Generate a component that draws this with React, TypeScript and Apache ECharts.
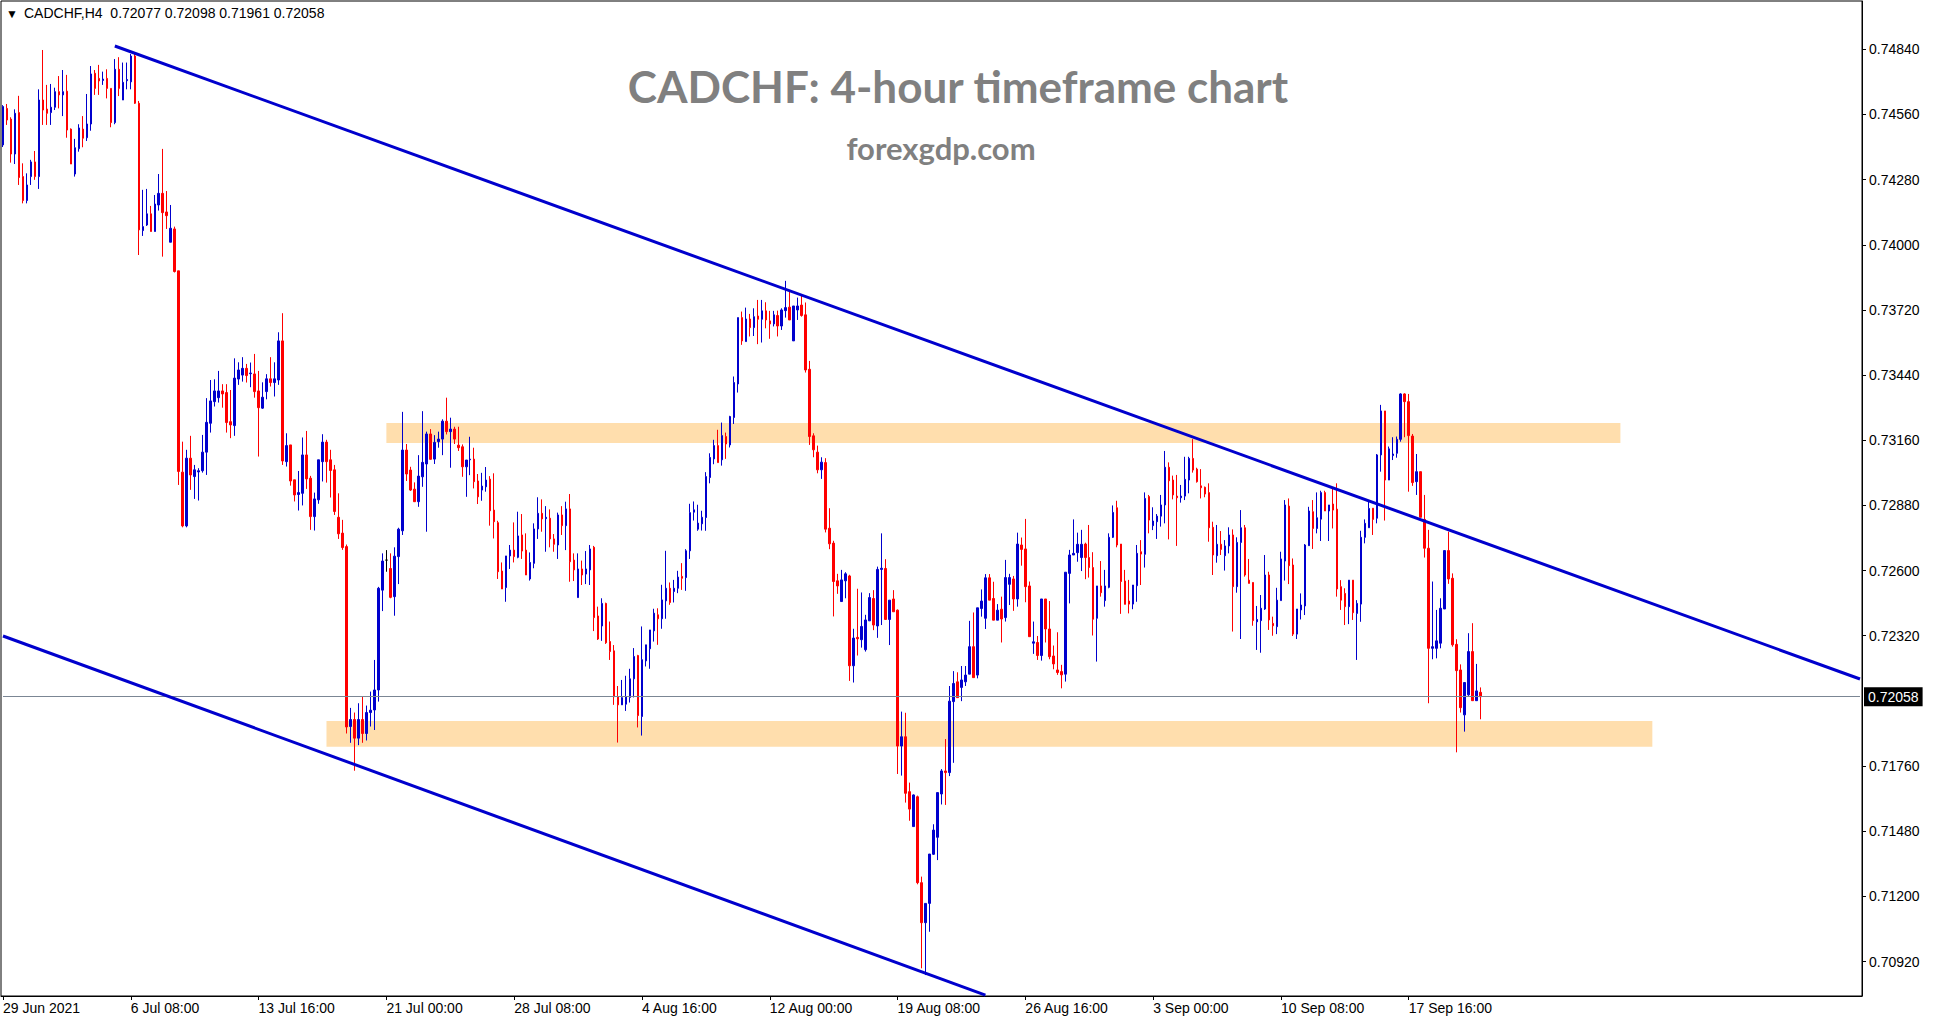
import React, { useEffect, useRef } from "react";
import * as echarts from "echarts";

// Each candle: [open, close, low, high] in units of 0.00001 (CADCHF, H4)
const week1 = [
  [74429,74594,74420,74600],[74586,74536,74515,74605],[74540,74390,74353,74548],[74390,74565,74347,74582],[74568,74289,74257,74640],[74293,74190,74178,74350],
  [74190,74257,74178,74307],[74293,74356,74257,74365],[74356,74293,74279,74403],[74293,74622,74240,74668],[74622,74579,74515,74837],[74583,74565,74515,74687],
  [74568,74591,74515,74691],[74591,74658,74579,74675],[74658,74644,74586,74725],[74644,74658,74553,74751],[74660,74493,74460,74730],[74497,74347,74347,74500],
  [74304,74417,74293,74455],[74413,74502,74400,74518],[74497,74458,74419,74553],[74460,74519,74446,74648],[74519,74734,74490,74768],[74737,74672,74644,74751],
];
const week2 = [
  [74715,74704,74644,74773],[74706,74712,74687,74744],[74715,74672,74629,74754],[74672,74525,74505,74672],[74525,74754,74518,74798],[74754,74672,74639,74806],
  [74622,74698,74622,74783],[74705,74710,74668,74783],[74700,74811,74668,74820],[74811,74608,74605,74820],[74608,74064,73956,74618],[74061,74078,74038,74236],
  [74085,74133,74081,74240],[74133,74057,74057,74167],[74057,74175,74057,74214],[74171,74221,74147,74304],[74221,74138,73949,74412],[74141,74125,74068,74231],
  [74011,74071,74011,74171],[74068,73885,73881,74078],[73888,73026,72968,73888],[73023,72792,72786,73154],[72792,73083,72786,73119],[73083,73011,72947,73179],
  [73004,73033,72908,73054],[73024,73029,72901,73040],[73029,73109,73021,73183],[73109,73237,73011,73341],[73233,73329,73193,73419],[73326,73372,73305,73422],
];
const week3 = [
  [73343,73372,73322,73458],[73372,73359,73300,73401],[73365,73236,73193,73401],[73240,73226,73169,73376],[73223,73427,73179,73512],[73423,73462,73398,73495],
  [73440,73469,73412,73517],[73469,73438,73408,73488],[73446,73449,73388,73494],[73445,73369,73343,73531],[73372,73300,73090,73458],[73298,73345,73295,73409],
  [73369,73424,73336,73444],[73424,73408,73391,73517],[73408,73424,73348,73495],[73419,73587,73398,73624],[73587,73071,73054,73706],[73068,73137,73047,73190],
  [73140,72985,72965,73140],[72990,72925,72897,72990],[72927,72935,72858,73028],[72932,73097,72880,73172],[73097,72994,72951,73200],[72997,72832,72775,73007],
  [72832,72908,72772,72935],[72904,73076,72887,73076],[73068,73152,72983,73186],[73152,73068,72978,73162],[73076,73030,72914,73119],[73033,72854,72839,73054],
];
const week4 = [
  [72829,72758,72736,72932],[72761,72699,72689,72818],[72703,71928,71900,72712],[71930,71960,71860,72010],[71960,71880,71740,71990],[71880,71960,71850,72030],
  [71960,71900,71860,72060],[71900,71990,71870,72020],[71990,72000,71930,72080],[72001,72087,71915,72216],[72087,72524,72037,72530],[72516,72641,72426,72674],
  [72645,72645,72595,72688],[72609,72485,72481,72674],[72488,72662,72406,72700],[72660,72778,72542,72784],[72771,73118,72753,73282],[73118,73015,72985,73144],
  [73032,72946,72942,73046],[72950,72896,72896,72979],[72896,73006,72874,73096],[73003,73065,72960,73285],[73058,73187,72767,73197],[73187,73078,73078,73208],
  [73079,73151,73058,73182],[73154,73165,73128,73197],[73165,73242,73096,73250],[73242,73197,73185,73343],[73197,73208,73042,73257],[73208,73165,73144,73218],
];
const week5 = [
  [73139,73128,73114,73218],[73132,73046,73003,73142],[73046,73075,72917,73075],[73076,73079,73010,73175],[73079,72982,72953,73128],[72985,72917,72886,73015],
  [72946,72963,72900,73020],[72960,72989,72939,73045],[72993,72857,72793,73006],[72860,72810,72738,73018],[72806,72595,72564,72814],[72598,72521,72521,72635],
  [72527,72663,72466,72663],[72663,72688,72607,72710],[72688,72660,72635,72807],[72657,72749,72653,72853],[72753,72684,72650,72843],[72688,72581,72581,72760],
  [72564,72635,72557,72678],[72631,72779,72610,72803],[72779,72846,72736,72915],[72846,72822,72767,72906],[72823,72829,72681,72877],[72825,72736,72700,72863],
  [72736,72713,72681,72757],[72710,72839,72650,72849],[72839,72793,72753,72877],[72793,72865,72688,72896],[72865,72638,72552,72929],[72645,72603,72555,72674],
];
const week6 = [
  [72484,72607,72484,72674],[72607,72581,72538,72643],[72585,72607,72542,72684],[72603,72693,72538,72710],[72700,72398,72340,72706],[72405,72306,72302,72445],
  [72362,72459,72298,72481],[72459,72290,72285,72462],[72295,72252,72216,72381],[72255,72058,72023,72280],[72058,72023,71861,72104],[72023,72054,72023,72130],
  [72026,72059,71997,72148],[72055,72135,72033,72178],[72135,72231,72055,72267],[72235,71977,71926,72238],[71973,72217,71891,72360],[72212,72281,72188,72281],
  [72264,72345,72178,72345],[72341,72417,72295,72436],[72410,72393,72281,72438],[72393,72474,72350,72539],[72470,72524,72393,72685],[72524,72463,72453,72549],
  [72510,72524,72463,72560],[72524,72572,72503,72599],[72575,72567,72517,72632],[72570,72685,72513,72692],[72685,72849,72650,72887],[72851,72861,72815,72897],
];
const week7 = [
  [72778,72804,72771,72883],[72801,72829,72772,72857],[72828,73004,72771,73023],[73000,73086,72975,73104],[73080,73137,73057,73162],[73137,73064,73064,73205],
  [73076,73180,73051,73236],[73176,73144,73080,73193],[73140,73262,73129,73265],[73258,73408,73230,73434],[73402,73687,73365,73687],[73687,73587,73570,73713],
  [73584,73681,73584,73730],[73681,73644,73606,73703],[73644,73691,73608,73727],[73694,73680,73573,73763],[73680,73716,73580,73763],[73716,73677,73641,73753],
  [73673,73660,73596,73716],[73660,73699,73649,73716],[73696,73651,73606,73717],[73651,73720,73634,73727],[73717,73730,73687,73845],[73732,73677,73677,73799],
  [73587,73737,73587,73737],[73720,73737,73677,73773],[73741,73696,73691,73782],[73699,73462,73451,73752],[73465,73176,73140,73501],[73179,73119,73087,73190],
];
const week8 = [
  [73109,73033,73018,73137],[73033,73066,72994,73087],[73064,72778,72764,73083],[72782,72715,72692,72868],[72718,72553,72403,72728],[72556,72534,72500,72586],
  [72467,72560,72467,72603],[72556,72586,72481,72593],[72577,72191,72126,72582],[72191,72310,72119,72350],[72313,72307,72235,72522],[72303,72360,72269,72506],
  [72260,72388,72252,72410],[72384,72484,72384,72503],[72480,72366,72344,72516],[72362,72605,72311,72617],[72605,72610,72366,72760],[72609,72390,72390,72649],
  [72390,72473,72280,72473],[72478,72423,72423,72516],[72430,71846,71726,72433],[71846,71886,71719,71994],[71886,71643,71603,71989],[71650,71575,71525,71689],
  [71500,71636,71500,71638],[71628,71259,71252,71633],[71259,71087,70891,71285],[71087,71170,70862,71170],[71170,71382,71048,71382],[71381,71485,71378,71510],
];
const week9 = [
  [71454,71646,71356,71646],[71640,71739,71595,71747],[71739,71732,71593,71876],[71732,72039,71717,72104],[72037,72115,71774,72168],[72122,72054,72054,72163],
  [72098,72130,72039,72190],[72122,72151,72104,72190],[72155,72273,72155,72384],[72273,72140,72140,72420],[72151,72440,72137,72440],[72437,72469,72402,72519],
  [72395,72569,72349,72585],[72569,72473,72473,72585],[72480,72387,72387,72552],[72387,72430,72387,72456],[72434,72392,72291,72488],[72398,72570,72381,72646],
  [72541,72570,72452,72586],[72564,72478,72427,72577],[72478,72714,72445,72763],[72710,72691,72621,72742],[72693,72531,72464,72822],[72534,72316,72316,72553],
  [72288,72294,72242,72381],[72291,72235,72216,72319],[72235,72478,72213,72478],[72478,72349,72291,72478],[72349,72230,72219,72469],[72233,72199,72176,72278],
];
const week10 = [
  [72173,72162,72152,72335],[72166,72152,72094,72195],[72155,72593,72123,72593],[72588,72667,72459,72689],[72667,72674,72667,72820],[72677,72713,72638,72763],
  [72656,72713,72598,72775],[72714,72656,72563,72720],[72656,72613,72570,72796],[72613,72391,72321,72679],[72395,72534,72209,72534],[72534,72505,72488,72641],
  [72471,72534,72445,72603],[72528,72743,72524,72760],[72743,72850,72740,72880],[72870,72710,72700,72900],[72714,72553,72414,72714],[72555,72455,72455,72603],
  [72469,72456,72416,72560],[72456,72538,72434,72538],[72535,72674,72466,72710],[72681,72671,72538,72731],[72670,72910,72613,72936],[72918,72817,72760,72925],
  [72793,72813,72774,72872],[72810,72834,72736,72843],[72834,72882,72789,72925],[72882,73044,72803,73114],[73044,72986,72734,73065],[72989,72925,72906,73008],
];
const week11 = [
  [72920,72913,72706,73011],[72913,72920,72892,72968],[72920,72992,72903,73089],[72989,73082,72932,73089],[73082,73032,73021,73165],[73036,72982,72978,73042],
  [72964,72956,72910,73036],[72958,72929,72915,72961],[72935,72784,72724,72975],[72786,72667,72581,72810],[72664,72713,72634,72796],[72713,72691,72667,72770],
  [72664,72706,72600,72731],[72706,72753,72674,72786],[72753,72531,72338,72777],[72531,72721,72505,72743],[72721,72784,72306,72860],[72784,72581,72574,72796],
  [72559,72545,72545,72650],[72549,72385,72363,72549],[72380,72390,72259,72448],[72385,72438,72247,72495],[72435,72581,72431,72667],[72581,72388,72345,72595],
  [72373,72363,72320,72402],[72359,72473,72327,72526],[72471,72650,72471,72681],[72641,72882,72557,72903],[72877,72621,72542,72910],[72624,72327,72319,72652],
];
const week12 = [
  [72327,72435,72306,72435],[72431,72452,72390,72502],[72448,72710,72409,72714],[72707,72856,72707,72874],[72853,72781,72693,72903],[72781,72827,72760,72936],
  [72821,72935,72727,72943],[72935,72856,72856,72943],[72856,72882,72727,72882],[72886,72860,72781,72953],[72864,72521,72488,72975],[72531,72473,72431,72559],
  [72502,72445,72366,72524],[72445,72559,72370,72559],[72559,72419,72388,72559],[72416,72459,72216,72473],[72456,72743,72380,72771],[72743,72803,72717,72820],
  [72784,72867,72784,72896],[72868,72820,72753,72868],[72825,73097,72803,73101],[73097,73286,73025,73312],[73286,72989,72815,73286],[72989,73123,72989,73133],
  [73094,73101,73075,73173],[73104,73164,73085,73176],[73164,73359,73154,73362],[73359,73326,73173,73362],[73326,73180,72939,73359],[73178,72978,72964,73187],
];
const week13 = [
  [72982,73025,72925,73101],[73025,72829,72829,73025],[72820,72696,72656,72925],[72696,72266,72030,72775],[72266,72273,72219,72553],[72266,72298,72223,72431],
  [72288,72438,72266,72481],[72435,72686,72435,72686],[72686,72564,72543,72767],[72567,72281,72273,72588],[72283,72170,71819,72305],[72173,72011,71990,72197],
  [71980,72119,71908,72119],[72066,72252,72062,72331],[72252,72041,72041,72374],[72041,72083,72041,72199],[72077,72058,71961,72098],
];

const PRICE_UNIT = 100000;
const TOTAL_SLOTS = 466; // bars incl. empty chart shift on the right
const xTickLabels = [
  "29 Jun 2021", "6 Jul 08:00", "13 Jul 16:00", "21 Jul 00:00", "28 Jul 08:00", "4 Aug 16:00",
  "12 Aug 00:00", "19 Aug 08:00", "26 Aug 16:00", "3 Sep 00:00", "10 Sep 08:00", "17 Sep 16:00",
];
const X_TICK_EVERY = 32;
const yTicks = [0.7092, 0.712, 0.7148, 0.7176, 0.7232, 0.726, 0.7288, 0.7316, 0.7344, 0.7372, 0.74, 0.7428, 0.7456, 0.7484];
const Y_MIN = 0.70772;
const Y_MAX = 0.750475;
const lastPrice = 0.72058;
const headerText = "CADCHF,H4  0.72077 0.72098 0.71961 0.72058";
const titleText = "CADCHF: 4-hour timeframe chart";
const subtitleText = "forexgdp.com";
// trend lines: [barIndex, price]
const upperTrend = [[28, 0.74854], [465, 0.72134]];
const lowerTrend = [[0, 0.72319], [246, 0.70776]];
// supply / demand zones: bar index range and price range
const zones = [
  { from: 96, to: 405, top: 0.73234, bottom: 0.73148 },
  { from: 81, to: 413, top: 0.71954, bottom: 0.71843 },
];

const BLUE = "#0000CD";
const RED = "#FF0000";
const MONTHS = ["Jan", "Feb", "Mar", "Apr", "May", "Jun", "Jul", "Aug", "Sep", "Oct", "Nov", "Dec"];

function buildCategories(n: number): string[] {
  const out: string[] = [];
  let t = Date.UTC(2021, 5, 29, 0);
  while (out.length < n) {
    const d = new Date(t);
    const wd = d.getUTCDay();
    if (wd !== 0 && wd !== 6) {
      const hh = String(d.getUTCHours()).padStart(2, "0");
      out.push(`${d.getUTCDate()} ${MONTHS[d.getUTCMonth()]} ${hh}:00`);
    }
    t += 4 * 3600 * 1000;
  }
  return out;
}

export default function App() {
  const ref = useRef<HTMLDivElement>(null);
  useEffect(() => {
    document.body.style.margin = "0";
    const el = ref.current!;
    const chart = echarts.init(el, null, { renderer: "svg" });
    const candles = [
      ...week1, ...week2, ...week3, ...week4, ...week5, ...week6, ...week7,
      ...week8, ...week9, ...week10, ...week11, ...week12, ...week13,
    ];
    const seriesData = candles.map((c) => c.map((v) => v / PRICE_UNIT));
    const categories = buildCategories(TOTAL_SLOTS);
    const isTick = (i: number) => i % X_TICK_EVERY === 0 && i / X_TICK_EVERY < xTickLabels.length;
    const font = "'Liberation Sans', Arial, sans-serif";
    const lastSlot = TOTAL_SLOTS - 1;

    chart.setOption({
      animation: false,
      backgroundColor: "#ffffff",
      textStyle: { fontFamily: font },
      grid: {
        left: 1, right: 71, top: 1, bottom: 27,
        show: true, borderColor: "#000", borderWidth: 1, backgroundColor: "#fff",
      },
      xAxis: {
        type: "category",
        data: categories,
        boundaryGap: true,
        axisLine: { lineStyle: { color: "#000", width: 1 } },
        axisTick: { show: true, interval: (i: number) => isTick(i), alignWithLabel: true, length: 4, lineStyle: { color: "#000" } },
        axisLabel: {
          interval: (i: number) => isTick(i),
          formatter: (_v: string, i: number) => xTickLabels[i / X_TICK_EVERY],
          align: "left",
          color: "#000",
          fontSize: 14,
          fontFamily: font,
          margin: 5,
        },
        splitLine: { show: false },
      },
      yAxis: {
        type: "value",
        position: "right",
        min: Y_MIN,
        max: Y_MAX,
        scale: true,
        axisLine: { show: true, lineStyle: { color: "#000" } },
        axisTick: { show: true, customValues: yTicks, length: 4, lineStyle: { color: "#000" } },
        axisLabel: {
          customValues: yTicks,
          formatter: (v: number) => v.toFixed(5),
          color: "#000",
          fontSize: 14,
          fontFamily: font,
          margin: 7,
        },
        splitLine: { show: false },
      },
      series: [
        {
          type: "line",
          data: [],
          silent: true,
          z: 1,
          markArea: {
            silent: true,
            itemStyle: { color: "#FFDEAD" },
            data: zones.map((z) => [{ coord: [z.from, z.top] }, { coord: [z.to, z.bottom] }]),
          },
        },
        {
          type: "candlestick",
          data: seriesData,
          barWidth: 2,
          z: 3,
          silent: true,
          itemStyle: {
            color: BLUE, color0: RED,
            borderColor: BLUE, borderColor0: RED,
            borderColorDoji: "#000",
            borderWidth: 1,
          },
          markLine: {
            silent: true,
            symbol: ["none", "none"],
            label: { show: false },
            data: [
              [
                {
                  coord: [0, lastPrice],
                  lineStyle: { color: "#7b8694", width: 1, type: "solid" },
                  label: {
                    show: true,
                    position: "end",
                    formatter: lastPrice.toFixed(5),
                    color: "#fff",
                    backgroundColor: "#000",
                    fontSize: 14,
                    fontFamily: font,
                    padding: [3, 4, 2, 4],
                    distance: 4,
                  },
                },
                { coord: [lastSlot, lastPrice] },
              ],
              [
                { coord: upperTrend[0], lineStyle: { color: BLUE, width: 3, type: "solid" } },
                { coord: upperTrend[1] },
              ],
              [
                { coord: lowerTrend[0], lineStyle: { color: BLUE, width: 3, type: "solid" } },
                { coord: lowerTrend[1] },
              ],
            ],
          },
        },
      ],
      graphic: [
        { type: "text", x: 6, y: 8, style: { text: "▼", fontSize: 12, fill: "#000" } },
        { type: "text", x: 24, y: 6, style: { text: headerText, fontSize: 14, fontFamily: font, fill: "#000" } },
        {
          type: "text", x: 958, y: 86,
          style: {
            text: titleText, fill: "#808080", fontSize: 44, fontWeight: "bold", fontFamily: "Lato",
            align: "center", verticalAlign: "middle", textAlign: "center", textVerticalAlign: "middle",
          },
        },
        {
          type: "text", x: 941, y: 148,
          style: {
            text: subtitleText, fill: "#808080", fontSize: 31, fontWeight: "bold", fontFamily: "Lato",
            align: "center", verticalAlign: "middle", textAlign: "center", textVerticalAlign: "middle",
          },
        },
      ],
    });
    return () => chart.dispose();
  }, []);
  return <div ref={ref} style={{ width: 1933, height: 1023 }} />;
}
